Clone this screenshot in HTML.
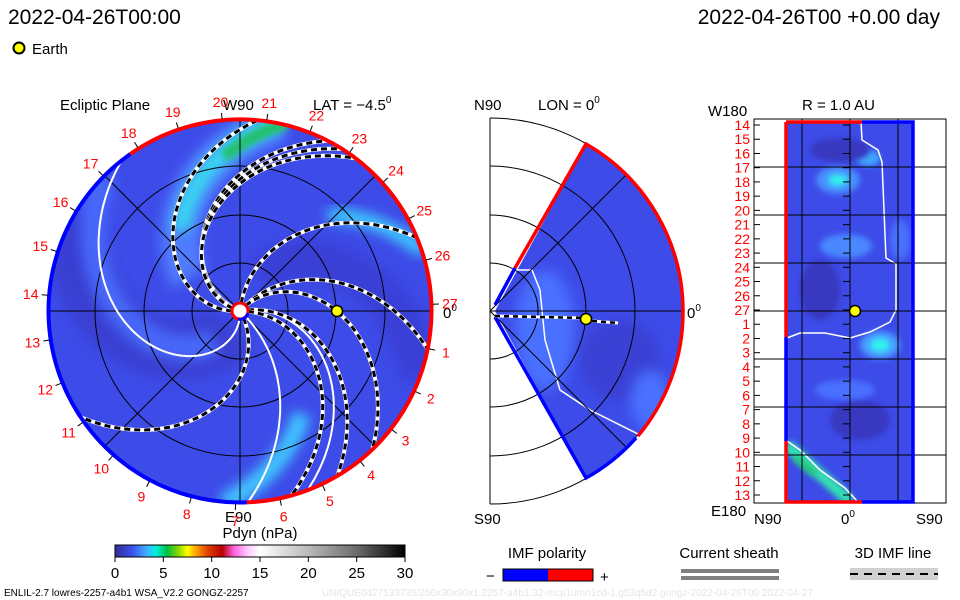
<!DOCTYPE html>
<html><head><meta charset="utf-8">
<style>
html,body{margin:0;padding:0;background:#fff;}
svg{display:block;font-family:"Liberation Sans",sans-serif;}
</style></head>
<body>
<svg id="fig" width="960" height="600" viewBox="0 0 960 600" xmlns="http://www.w3.org/2000/svg">
<defs>
  <filter id="blur6" x="-30%" y="-30%" width="160%" height="160%"><feGaussianBlur stdDeviation="6"/></filter>
  <filter id="blur3" x="-30%" y="-30%" width="160%" height="160%"><feGaussianBlur stdDeviation="3"/></filter>
  <clipPath id="diskClip"><circle cx="240" cy="311" r="193"/></clipPath>
  <clipPath id="wedgeClip"><path d="M495,311 L586,144 A193,193 0 0 1 586,478 Z"/></clipPath>
  <clipPath id="rectClip"><rect x="785" y="122" width="129" height="380"/></clipPath>
  <linearGradient id="cbar" x1="0" x2="1" y1="0" y2="0">
    <stop offset="0" stop-color="#303090"/>
    <stop offset="0.06" stop-color="#3c50f0"/>
    <stop offset="0.11" stop-color="#40b0ff"/>
    <stop offset="0.14" stop-color="#00f0e0"/>
    <stop offset="0.18" stop-color="#00c040"/>
    <stop offset="0.22" stop-color="#90d800"/>
    <stop offset="0.25" stop-color="#ffff00"/>
    <stop offset="0.28" stop-color="#ffa000"/>
    <stop offset="0.32" stop-color="#e04000"/>
    <stop offset="0.37" stop-color="#b80000"/>
    <stop offset="0.41" stop-color="#ff60e0"/>
    <stop offset="0.46" stop-color="#ffd0ff"/>
    <stop offset="0.5" stop-color="#ffffff"/>
    <stop offset="0.67" stop-color="#b8b8b8"/>
    <stop offset="0.84" stop-color="#686868"/>
    <stop offset="1" stop-color="#000000"/>
  </linearGradient>
</defs>

<text x="8" y="24" font-size="21" fill="#000">2022-04-26T00:00</text>
<text x="940" y="24" font-size="21" fill="#000" text-anchor="end">2022-04-26T00 +0.00 day</text>
<circle cx="19" cy="48" r="5.5" fill="#ffff00" stroke="#000" stroke-width="2"/>
<text x="32" y="54" font-size="15">Earth</text>

<g id="ecliptic">
  <text x="60" y="110" font-size="15">Ecliptic Plane</text>
  <text x="223" y="110" font-size="15">W90</text>
  <text x="313" y="110" font-size="15">LAT = −4.5<tspan font-size="10" dy="-7">0</tspan></text>
  <text x="443" y="318" font-size="15">0<tspan font-size="10" dy="-7">0</tspan></text>
  <text x="225" y="522" font-size="15">E90</text>
</g>

<g id="meridional">
  <text x="474" y="110" font-size="15">N90</text>
  <text x="538" y="110" font-size="15">LON = 0<tspan font-size="10" dy="-7">0</tspan></text>
  <text x="687" y="318" font-size="15">0<tspan font-size="10" dy="-7">0</tspan></text>
  <text x="474" y="524" font-size="15">S90</text>
</g>

<g id="radial">
  <text x="802" y="110" font-size="15">R = 1.0 AU</text>
  <text x="708" y="116" font-size="15">W180</text>
  <text x="711" y="516" font-size="15">E180</text>
  <text x="754" y="524" font-size="15">N90</text>
  <text x="841" y="524" font-size="15">0<tspan font-size="10" dy="-7">0</tspan></text>
  <text x="916" y="524" font-size="15">S90</text>
</g>

<g id="colorbar">
  <text x="260" y="538" font-size="15" text-anchor="middle">Pdyn (nPa)</text>
  <rect x="115" y="545" width="290" height="12" fill="url(#cbar)" stroke="#000" stroke-width="1"/>
</g>

<g>
  <text x="547" y="558" font-size="15" text-anchor="middle">IMF polarity</text>
  <text x="486" y="581" font-size="15">−</text>
  <rect x="503" y="569" width="45" height="12" fill="#0000ff"/>
  <rect x="548" y="569" width="45" height="12" fill="#ff0000"/>
  <rect x="503" y="569" width="90" height="12" fill="none" stroke="#000"/>
  <text x="600" y="582" font-size="15">+</text>
</g>
<g>
  <text x="729" y="558" font-size="15" text-anchor="middle">Current sheath</text>
  <rect x="681" y="569" width="98" height="4" fill="#808080"/>
  <rect x="681" y="576" width="98" height="4" fill="#808080"/>
</g>
<g>
  <text x="893" y="558" font-size="15" text-anchor="middle">3D IMF line</text>
  <rect x="850" y="568" width="88" height="12" fill="#d0d0d0"/>
  <line x1="850" y1="574" x2="938" y2="574" stroke="#000" stroke-width="2" stroke-dasharray="8,6"/>
</g>
<text x="4" y="596" font-size="10">ENLIL-2.7 lowres-2257-a4b1 WSA_V2.2 GONGZ-2257</text>
<text x="322" y="596" font-size="10" fill="#e4e4ee">UNIQUE0427133735/256x30x90x1.2257-a4b1.32-mcp1umn1cd-1.g53q5d2.gongz-2022-04-26T00    2022-04-27</text>
</svg>

<script>
// ---- data arrays ----
const carringtonLabels = [27,1,2,3,4,5,6,7,8,9,10,11,12,13,14,15,16,17,18,19,20,21,22,23,24,25,26];
const carrington27Angle = 2;          // degrees
const degPerDay = 360/27;
// IMF field lines: end angle at outer boundary (deg), wrap (deg)
const dashedEnd  = [84, 62, 57, 52, 22, -12, -47, -60, -75, 213];
const dashedWrap = [100,96, 104,112,62, 60, 94, 70, 75, 87];
const whiteEnd   = [127, -70, -88];
const whiteWrap  = [146, 80, 45];
const cbarTicks  = [0,5,10,15,20,25,30];
const cbarMax    = 30;
const radialLabels = [14,15,16,17,18,19,20,21,22,23,24,25,26,27,1,2,3,4,5,6,7,8,9,10,11,12,13];

const NS='http://www.w3.org/2000/svg';
const svg=document.getElementById('fig');
function mk(tag,attrs,parent){const e=document.createElementNS(NS,tag);for(const k in attrs)e.setAttribute(k,attrs[k]);(parent||svg).appendChild(e);return e;}

// ---- ecliptic disk ----
const CX=240,CY=311,R=193;
function pt(phiDeg,r){const p=phiDeg*Math.PI/180;return [CX+r*Math.cos(p),CY-r*Math.sin(p)];}
function spiralPath(endA,wrap,r0,r1){let d='';for(let i=0;i<=80;i++){const r=r0+(r1-r0)*i/80;const a=endA+wrap*(1-r/R);const [x,y]=pt(a,r);d+=(i?'L':'M')+x.toFixed(1)+','+y.toFixed(1);}return d;}

const eg=mk('g',{'clip-path':'url(#diskClip)'});


mk('circle',{cx:CX,cy:CY,r:R,fill:'#3d4be8'},eg);
// darker regions
mk('path',{d:spiralPath(150,100,20,193),stroke:'#3838c0',"stroke-width":60,fill:'none',filter:'url(#blur6)',opacity:0.55},eg);
mk('path',{d:spiralPath(-20,100,40,193),stroke:'#3838c8',"stroke-width":40,fill:'none',filter:'url(#blur6)',opacity:0.55},eg);
// lighter / cyan bands
mk('path',{d:spiralPath(78,100,60,193),stroke:'#4f7cff',"stroke-width":40,fill:'none',filter:'url(#blur6)'},eg);
mk('path',{d:spiralPath(78,100,100,193),stroke:'#38d8f0',"stroke-width":18,fill:'none',filter:'url(#blur6)'},eg);
mk('path',{d:spiralPath(76,100,155,193),stroke:'#20c070',"stroke-width":12,fill:'none',filter:'url(#blur3)'},eg);
mk('path',{d:spiralPath(18,90,130,193),stroke:'#3cd0ff',"stroke-width":14,fill:'none',filter:'url(#blur6)'},eg);
mk('path',{d:spiralPath(-95,95,120,193),stroke:'#40c8ff',"stroke-width":18,fill:'none',filter:'url(#blur6)'},eg);
mk('path',{d:spiralPath(135,120,40,193),stroke:'#4668fa',"stroke-width":26,fill:'none',filter:'url(#blur6)'},eg);
// grid
[48,96,145,193].forEach(r=>mk('circle',{cx:CX,cy:CY,r:r,fill:'none',stroke:'#000',"stroke-width":1},eg));
[0,45,90,135].forEach(a=>{const [x1,y1]=pt(a,R),[x2,y2]=pt(a+180,R);mk('line',{x1,y1,x2,y2,stroke:'#000',"stroke-width":1},eg);});
// white lines
whiteEnd.forEach((e,i)=>{
  const p=mk('path',{d:spiralPath(e,whiteWrap[i],8,193),stroke:'#fff',"stroke-width":2,fill:'none'},eg);
  
  
});
// dashed IMF lines
dashedEnd.forEach((e,i)=>{
  const d=spiralPath(e,dashedWrap[i],8,193);
  const g=mk('g',{},eg);
  
  
  mk('path',{d,stroke:'#fff',"stroke-width":4,fill:'none'},g);
  mk('path',{d,stroke:'#000',"stroke-width":3,fill:'none',"stroke-dasharray":'6,4'},g);
});
// boundary polarity arc
function arc(a1,a2,col){const [x1,y1]=pt(a1,R-1.5),[x2,y2]=pt(a2,R-1.5);const large=Math.abs(a2-a1)>180?1:0;return mk('path',{d:`M${x1},${y1} A${R-1.5},${R-1.5} 0 ${large} 0 ${x2},${y2}`,stroke:col,"stroke-width":4,fill:'none'});}
const red1=arc(-88,125,'#ff0000');
const blue1=arc(125,272,'#0000ff');
// sun
const sun=mk('circle',{cx:CX,cy:CY,r:8,fill:'#fff',stroke:'#ff0000',"stroke-width":3});

mk('path',{d:`M${CX-2},${CY+8} A8,8 0 0 0 ${CX+8},${CY+2}`,stroke:'#0000ff',"stroke-width":3,fill:'none'});
const earth=mk('circle',{cx:CX+97,cy:CY,r:5.5,fill:'#ffff00',stroke:'#000',"stroke-width":1.5});

// carrington labels
carringtonLabels.forEach((lab,i)=>{
  const a=carrington27Angle-i*degPerDay;
  const [x,y]=pt(a,210);
  const t=mk('text',{x:x.toFixed(1),y:(y+5).toFixed(1),"font-size":14,fill:'#ff0000',"text-anchor":'middle'});
  t.textContent=lab;
  
  
  const [tx1,ty1]=pt(a,R),[tx2,ty2]=pt(a,R+6);
  mk('line',{x1:tx1,y1:ty1,x2:tx2,y2:ty2,stroke:'#000',"stroke-width":1});
});

// ---- meridional panel ----
const MX=490,MY=311;
const mg=mk('g',{});


mk('line',{x1:MX,y1:MY-R,x2:MX,y2:MY+R,stroke:'#000'},mg);
const wg=mk('g',{'clip-path':'url(#wedgeClip)'},mg);
mk('rect',{x:480,y:110,width:220,height:400,fill:'#3d4be8'},wg);
mk('ellipse',{cx:545,cy:330,rx:30,ry:60,fill:'#4a70ff',filter:'url(#blur6)'},wg);
mk('ellipse',{cx:620,cy:360,rx:40,ry:40,fill:'#3838c0',filter:'url(#blur6)',opacity:0.5},wg);
mk('ellipse',{cx:650,cy:400,rx:20,ry:30,fill:'#4a70ff',filter:'url(#blur6)'},wg);
mk('path',{d:'M517,270 L532,270 L540,290 L545,340 L560,390 L590,410 L640,435',stroke:'#fff',"stroke-width":1.5,fill:'none'},wg);
[48,96,145,193].forEach(r=>mk('path',{d:`M${MX},${MY-r} A${r},${r} 0 0 1 ${MX},${MY+r}`,stroke:'#000',fill:'none'},mg));
mk('line',{x1:MX,y1:MY,x2:MX+R,y2:MY,stroke:'#000'},mg);
mk('line',{x1:MX,y1:MY,x2:MX+R*Math.cos(Math.PI/4),y2:MY-R*Math.sin(Math.PI/4),stroke:'#000'},mg);
mk('line',{x1:MX,y1:MY,x2:MX+R*Math.cos(Math.PI/4),y2:MY+R*Math.sin(Math.PI/4),stroke:'#000'},mg);
mk('path',{d:'M515,268 L586,144 A193,193 0 0 1 683,311',stroke:'#ff0000',"stroke-width":3.5,fill:'none'},mg);
mk('path',{d:'M683,311 A193,193 0 0 1 638,436',stroke:'#ff0000',"stroke-width":3.5,fill:'none'},mg);
mk('path',{d:'M515,268 L495,305 M495,317 L586,478 A193,193 0 0 0 636,438',stroke:'#0000ff',"stroke-width":3.5,fill:'none'},mg);
mk('path',{d:'M495,316 L586,318 M592,321 L618,323',stroke:'#fff',"stroke-width":3,fill:'none'},mg);
mk('path',{d:'M495,316 L586,318 M592,321 L618,323',stroke:'#000',"stroke-width":2.5,"stroke-dasharray":'5,4',fill:'none'},mg);
const me=mk('circle',{cx:586,cy:319,r:5.5,fill:'#ffff00',stroke:'#000',"stroke-width":1.5},mg);


// ---- radial (lon-lat) panel ----
const rg=mk('g',{});


mk('rect',{x:754,y:119,width:192,height:384,fill:'none',stroke:'#000'},rg);
const rc=mk('g',{'clip-path':'url(#rectClip)'},rg);
mk('rect',{x:785,y:122,width:129,height:380,fill:'#3d4be8'},rc);
[[838,180,22,14,'#4a90ff'],[838,180,10,6,'#30f0f0'],[868,158,12,8,'#40a8ff'],[846,246,26,12,'#4a88ff'],[880,345,20,14,'#4a9cff'],[880,345,10,7,'#30f0f0'],[860,420,30,20,'#3838c0'],[820,290,20,30,'#3838c0'],[900,240,10,20,'#4a70ff'],[845,390,30,10,'#4a70ff'],[840,150,30,12,'#3838c0']].forEach(b=>mk('ellipse',{cx:b[0],cy:b[1],rx:b[2],ry:b[3],fill:b[4],filter:'url(#blur3)'},rc));
mk('path',{d:'M787,445 L815,470 L840,492 L850,502',stroke:'#30e0b0',"stroke-width":12,fill:'none',filter:'url(#blur3)'},rc);
mk('path',{d:'M795,458 L815,474',stroke:'#20c070',"stroke-width":6,fill:'none',filter:'url(#blur3)'},rc);
mk('path',{d:'M861,122 L862,140 L878,150 L882,162 L886,258 L896,264 L896,310 L890,322 L870,332 L850,338 L825,333 L800,333 L787,338',stroke:'#fff',"stroke-width":1.5,fill:'none'},rc);
mk('path',{d:'M787,441 L800,450 L820,470 L845,488 L858,502',stroke:'#fff',"stroke-width":1.5,fill:'none'},rc);
[802,850,898].forEach(x=>mk('line',{x1:x,y1:119,x2:x,y2:503,stroke:'#000'},rg));
[167,215,263,311,359,407,455].forEach(y=>mk('line',{x1:754,y1:y,x2:946,y2:y,stroke:'#000'},rg));
mk('path',{d:'M786,122 L862,122 M786,122 L786,337 M786,441 L786,502 L862,502',stroke:'#ff0000',"stroke-width":3.5,fill:'none'},rg);
mk('path',{d:'M862,122 L913,122 L913,502 L862,502 M786,337 L786,441',stroke:'#0000ff',"stroke-width":3.5,fill:'none'},rg);
radialLabels.forEach((lab,i)=>{
  const y=125+i*(370/26);
  const t=mk('text',{x:750,y:(y+5).toFixed(1),"font-size":14,fill:'#ff0000',"text-anchor":'end'},rg);
  t.textContent=lab;
  
  
  mk('line',{x1:754,y1:y,x2:760,y2:y,stroke:'#000'},rg);
  mk('line',{x1:843,y1:y,x2:850,y2:y,stroke:'#000'},rg);
});
const re=mk('circle',{cx:855,cy:311,r:5.5,fill:'#ffff00',stroke:'#000',"stroke-width":1.5},rg);


// ---- colorbar ticks ----
cbarTicks.forEach(v=>{
  const x=115+290*v/cbarMax;
  mk('line',{x1:x,y1:557,x2:x,y2:562,stroke:'#000'});
  const t=mk('text',{x:x,y:578,"font-size":15,"text-anchor":'middle'});
  t.textContent=v;
  
  
});
</script>
</body></html>
